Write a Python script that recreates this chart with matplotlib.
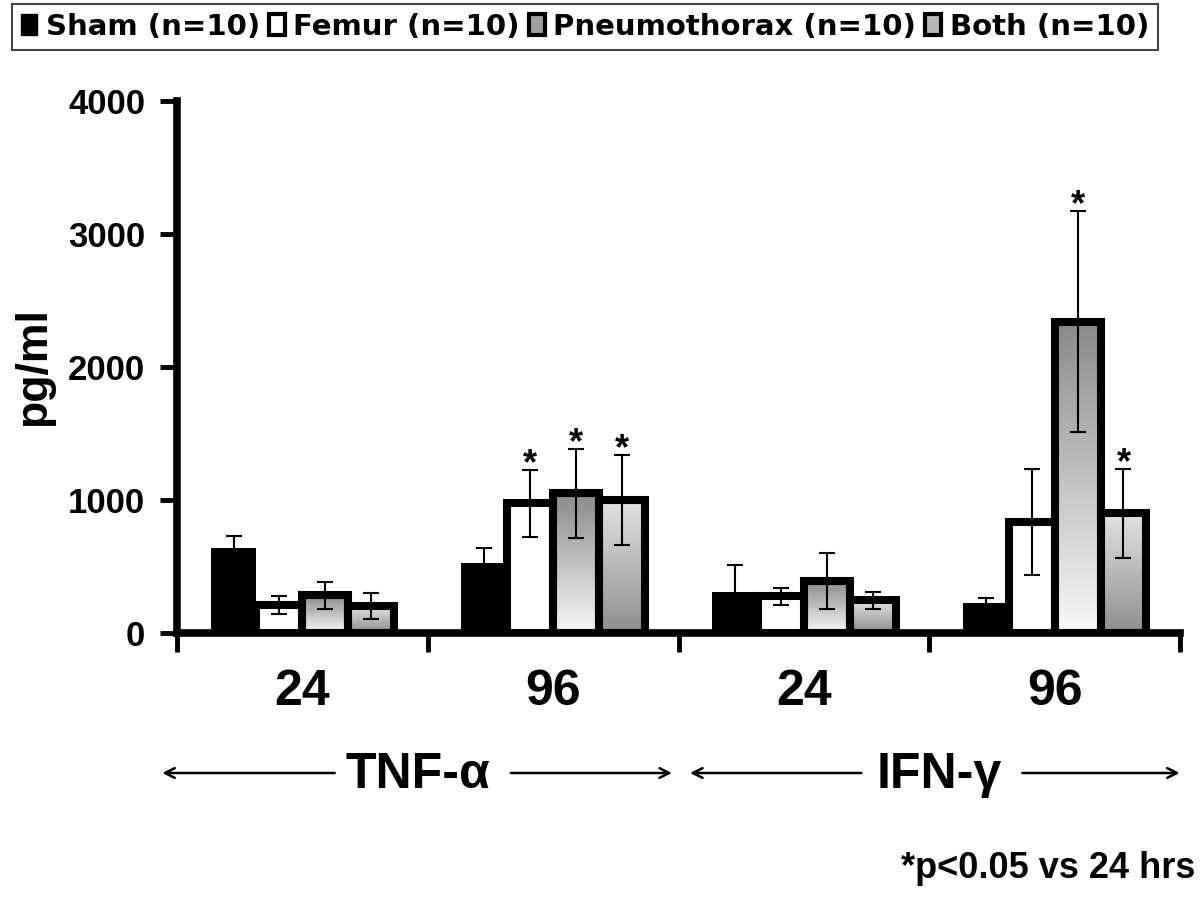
import numpy as np
import matplotlib
matplotlib.use("Agg")
import matplotlib.pyplot as plt
import matplotlib.transforms as mtransforms
from matplotlib.patches import Patch
from matplotlib.colors import LinearSegmentedColormap

plt.rcParams['font.family'] = ['Liberation Sans', 'DejaVu Sans']
plt.rcParams['font.weight'] = 'bold'

# data (pg/ml)
time_labels = ['24', '96', '24', '96']
cytokines = ['TNF-α', 'IFN-γ']
series = ['Sham (n=10)', 'Femur (n=10)', 'Pneumothorax (n=10)', 'Both (n=10)']

sham_mean = [640, 530, 310, 225]
sham_err = [90, 110, 200, 40]
femur_mean = [210, 975, 275, 835]
femur_err = [65, 250, 65, 400]
pneumo_mean = [283, 1050, 390, 2340]
pneumo_err = [103, 335, 210, 830]
both_mean = [200, 1000, 245, 900]
both_err = [98, 340, 64, 335]

femur_sig = [False, True, False, False]
pneumo_sig = [False, True, False, True]
both_sig = [False, True, False, True]

fig = plt.figure(figsize=(12, 8.99), dpi=100)
ax = fig.add_axes([177 / 1200, 1 - 633 / 899, (1180 - 177) / 1200, (633 - 101) / 899])

x = np.arange(len(time_labels)) + 0.5
w = 0.183
offs = (np.arange(4) - 1.5) * w
edge_lw = 5.8

# gradient maps for the two shaded groups
pneumo_cmap = LinearSegmentedColormap.from_list('pn', ['#f8f8f8', '#8a8a8a'])
both_cmap = LinearSegmentedColormap.from_list('bo', ['#8e8e8e', '#e2e2e2'])
grad = np.linspace(0, 1, 256).reshape(-1, 1)

ax.bar(x + offs[0], sham_mean, w, color='black', linewidth=0, zorder=2)
ax.bar(x + offs[1], femur_mean, w, facecolor='white', edgecolor='black',
       linewidth=edge_lw, zorder=3)

for means, off, cmap in [(pneumo_mean, offs[2], pneumo_cmap), (both_mean, offs[3], both_cmap)]:
    bars = ax.bar(x + off, means, w, facecolor='none', edgecolor='black',
                  linewidth=edge_lw, zorder=3)
    for rect in bars:
        x0 = rect.get_x()
        h = rect.get_height()
        im = ax.imshow(grad, extent=[x0, x0 + w, 0, h], origin='lower', cmap=cmap,
                       vmin=0, vmax=1, aspect='auto', interpolation='bilinear', zorder=2.5)
        im.set_clip_path(rect)

all_means = [sham_mean, femur_mean, pneumo_mean, both_mean]
all_errs = [sham_err, femur_err, pneumo_err, both_err]
for means, errs, off in zip(all_means, all_errs, offs):
    ax.errorbar(x + off, means, yerr=errs, fmt='none', ecolor='black',
                elinewidth=1.5, capsize=6, capthick=1.5, zorder=4)

for means, errs, sig, off in [(femur_mean, femur_err, femur_sig, offs[1]),
                              (pneumo_mean, pneumo_err, pneumo_sig, offs[2]),
                              (both_mean, both_err, both_sig, offs[3])]:
    for xi, m, e, s in zip(x + off, means, errs, sig):
        if s:
            ax.annotate('*', (xi, m + e), xytext=(0, -3), textcoords='offset points',
                        ha='center', va='baseline', fontsize=26, fontweight='bold')

ax.set_xlim(0, 4)
ax.set_ylim(0, 4000)

for side in ['top', 'right']:
    ax.spines[side].set_visible(False)
for side in ['left', 'bottom']:
    ax.spines[side].set_linewidth(5.5)

ax.set_yticks([0, 1000, 2000, 3000, 4000])
ax.tick_params(axis='y', direction='out', length=12, width=3.5, labelsize=25, pad=11)

ax.set_xticks([0, 1, 2, 3, 4])
ax.set_xticklabels([])
ax.set_xticks(x, minor=True)
ax.set_xticklabels(time_labels, minor=True)
ax.tick_params(axis='x', which='major', direction='out', length=14, width=3.5)
ax.tick_params(axis='x', which='minor', length=0, labelsize=36, pad=26)
for t in ax.get_yticklabels() + ax.get_xticklabels(minor=True):
    t.set_fontweight('bold')

ax.text(-0.1426, 0.5, 'pg/ml', transform=ax.transAxes, rotation=90,
        ha='center', va='center', fontsize=32, fontweight='bold')

# cytokine brackets with arrows
trans = mtransforms.blended_transform_factory(ax.transData, fig.transFigure)
y_arrow = 1 - 773 / 899
y_text = 1 - 788 / 899
arrow_kw = dict(arrowstyle='->,head_length=0.7,head_width=0.35', lw=1.8, color='black')
for name, c, left_end, right_end, gap_l, gap_r in [(cytokines[0], 0.96, -0.07, 1.985, 0.32, 0.36),
                                                   (cytokines[1], 3.04, 2.035, 4.01, 0.30, 0.32)]:
    ax.text(c, y_text, name, transform=trans, ha='center', va='baseline',
            fontsize=36, fontweight='bold')
    ax.annotate('', xy=(left_end, y_arrow), xytext=(c - gap_l, y_arrow),
                xycoords=trans, textcoords=trans, arrowprops=arrow_kw, annotation_clip=False)
    ax.annotate('', xy=(right_end, y_arrow), xytext=(c + gap_r, y_arrow),
                xycoords=trans, textcoords=trans, arrowprops=arrow_kw, annotation_clip=False)

fig.text(1195 / 1200, 1 - 878 / 899, '*p<0.05 vs 24 hrs', ha='right', va='baseline',
         fontsize=26, fontweight='bold')

handles = [Patch(facecolor='black', edgecolor='black', linewidth=1),
           Patch(facecolor='white', edgecolor='black', linewidth=3),
           Patch(facecolor='#a0a0a0', edgecolor='black', linewidth=3),
           Patch(facecolor='#b8b8b8', edgecolor='black', linewidth=3)]
leg = fig.legend(handles, series, loc='upper left', bbox_to_anchor=(12 / 1200, 1 - 4 / 899),
                 ncol=4, frameon=True, fancybox=False, edgecolor='#444444', framealpha=1,
                 prop=dict(family='DejaVu Sans', weight='bold', size=21),
                 handlelength=0.55, handleheight=0.75, handletextpad=0.3,
                 columnspacing=0.3, borderpad=0.3, borderaxespad=0)
leg.get_frame().set_linewidth(1.5)

fig.savefig('out.png', dpi=100, facecolor='white')
